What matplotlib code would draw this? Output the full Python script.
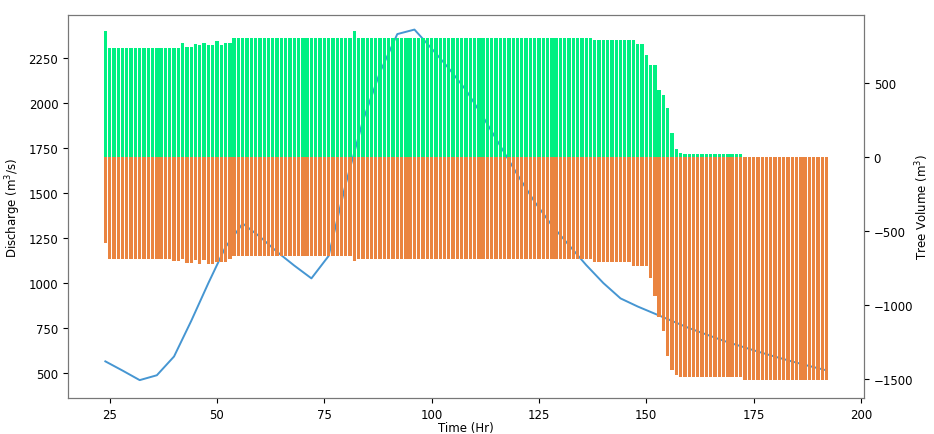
import numpy as np
import matplotlib
matplotlib.use("Agg")
import matplotlib.pyplot as plt

# Discharge hydrograph (left axis)
q_time = [24, 28, 32, 36, 40, 44, 48, 52, 56, 60, 64, 68, 72, 76, 80, 84, 88,
          92, 96, 100, 104, 108, 112, 116, 120, 124, 128, 132, 136, 140, 144,
          148, 152, 156, 160, 164, 168, 172, 176, 180, 184, 188, 192]
discharge = [566, 515, 462, 489, 593, 790, 1000, 1200, 1330, 1257, 1173, 1097,
             1026, 1150, 1550, 1900, 2170, 2380, 2405, 2300, 2190, 2070, 1920,
             1760, 1600, 1450, 1320, 1210, 1100, 1000, 915, 870, 830, 790, 750,
             715, 680, 650, 620, 592, 565, 540, 516]

# Hourly tree volume bars (right axis), hours 24..192
bar_time = list(range(24, 193))
tree_in = (
    [854]
    + [740] * 16
    + [740, 776, 748, 748, 769, 758, 776, 758, 758, 785, 763, 774, 774]
    + [810] * 28
    + [854]
    + [810] * 55
    + [791] * 10
    + [767] * 2
    + [691, 624, 624, 457, 424, 334, 167, 56, 33]
    + [22] * 14
    + [4] * 20
)
tree_out = (
    [-575]
    + [-687] * 15
    + [-702, -702, -687, -713, -713, -696, -718, -696, -718, -718, -709, -709,
       -709, -687]
    + [-664] * 28
    + [-700]
    + [-687] * 55
    + [-709] * 9
    + [-736] * 4
    + [-814, -936, -1081, -1170, -1338, -1438, -1472]
    + [-1483] * 15
    + [-1505] * 20
)


def main():
    """Draw discharge with tree volume bars on a twin axis."""
    plt.rcParams["font.size"] = 8.5
    fig = plt.figure(figsize=(9.34, 4.35), dpi=100)
    ax1 = fig.add_axes([0.0728, 0.0828, 0.8522, 0.8805])

    ax1.plot(q_time, discharge, color="#4696d2", linewidth=1.4)
    ax1.set_xlim(15.3, 200.7)
    ax1.set_ylim(363, 2486)
    ax1.set_yticks([500, 750, 1000, 1250, 1500, 1750, 2000, 2250])
    ax1.set_xticks([25, 50, 75, 100, 125, 150, 175, 200])
    ax1.set_xlabel("Time (Hr)", labelpad=0)
    ax1.set_ylabel("Discharge (m$^3$/s)")

    ax2 = ax1.twinx()
    ax2.bar(bar_time, tree_in, width=0.78, color="#00f082")
    ax2.bar(bar_time, tree_out, width=0.78, color="#ea8440")
    ax2.set_ylim(-1625, 963)
    ax2.set_yticks([-1500, -1000, -500, 0, 500])
    ax2.set_ylabel("Tree Volume (m$^3$)", labelpad=0)

    for ax in (ax1, ax2):
        for spine in ax.spines.values():
            spine.set_color("#777777")

    fig.savefig("out.png", dpi=100)


if __name__ == "__main__":
    main()
